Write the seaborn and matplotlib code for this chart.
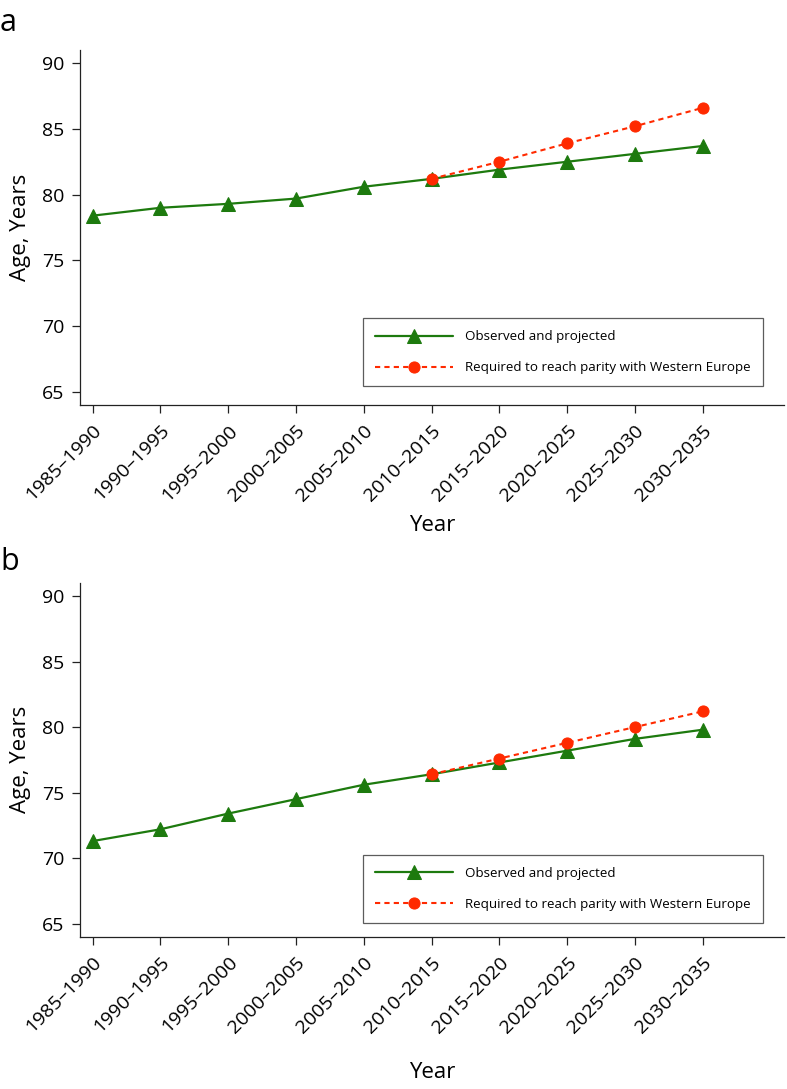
import numpy as np
import pandas as pd
import matplotlib
matplotlib.use("Agg")
import matplotlib.pyplot as plt
import matplotlib.transforms as mtransforms
import seaborn as sns

# five-year periods on the x axis
periods = ['1985–1990', '1990–1995', '1995–2000', '2000–2005', '2005–2010',
           '2010–2015', '2015–2020', '2020–2025', '2025–2030', '2030–2035']

# panel a
a_observed = [78.4, 79.0, 79.3, 79.7, 80.6, 81.2, 81.9, 82.5, 83.1, 83.7]
a_parity = [81.2, 82.5, 83.9, 85.2, 86.6]   # from 2010–2015 on

# panel b
b_observed = [71.3, 72.2, 73.4, 74.5, 75.6, 76.4, 77.3, 78.2, 79.1, 79.8]
b_parity = [76.4, 77.6, 78.8, 80.0, 81.2]

yticks = [65, 70, 75, 80, 85, 90]
lab_obs = 'Observed and projected'
lab_par = 'Required to reach parity with Western Europe'

green = '#1d7a0e'
red = '#ff2a00'

sns.set_style('ticks')
plt.rcParams['font.family'] = ['Open Sans', 'DejaVu Sans']
plt.rcParams.update({'text.color': 'black', 'axes.labelcolor': 'black',
                     'xtick.color': '#222222', 'ytick.color': '#222222',
                     'xtick.labelcolor': 'black', 'ytick.labelcolor': 'black'})

fig = plt.figure(figsize=(7.87, 10.89), dpi=100)
W, H = 787, 1089


def panel(rect, observed, parity, letter, letter_y, xlabelpad, leg_y):
    ax = fig.add_axes(rect)
    pos = np.arange(len(periods))
    obs_df = pd.DataFrame({'pos': pos, 'age': observed})
    start = len(periods) - len(parity)
    par_df = pd.DataFrame({'pos': pos[start:], 'age': parity})

    sns.lineplot(data=obs_df, x='pos', y='age', ax=ax, color=green, lw=1.6,
                 marker='^', markersize=10, markeredgecolor=green, label=lab_obs)
    sns.lineplot(data=par_df, x='pos', y='age', ax=ax, color=red, lw=1.5,
                 marker='o', markersize=8, markeredgecolor=red,
                 linestyle=(0, (2.5, 2)), label=lab_par)

    ax.set_xlim(-0.187, 10.2)
    ax.set_ylim(64, 91)
    ax.set_yticks(yticks)
    ax.set_xticks(pos)
    ax.set_xticklabels(periods, rotation=45, ha='right', va='top',
                       rotation_mode='anchor')
    shift = mtransforms.ScaledTranslation(7 / 100, 0, fig.dpi_scale_trans)
    for t in ax.get_xticklabels():
        t.set_transform(t.get_transform() + shift)
    ax.tick_params(axis='both', labelsize=14, length=6, width=0.9)
    ax.tick_params(axis='y', pad=5)
    ax.tick_params(axis='x', pad=6)
    ax.set_xlabel('Year', fontsize=16, labelpad=xlabelpad)
    ax.set_ylabel('Age, Years', fontsize=16, labelpad=8)
    for s in ['top', 'right']:
        ax.spines[s].set_visible(False)
    for s in ['left', 'bottom']:
        ax.spines[s].set_linewidth(0.9)
        ax.spines[s].set_color('#222222')

    leg = ax.legend(loc='lower right', bbox_to_anchor=(0.97, leg_y),
                    fontsize=9.6, frameon=True, fancybox=False,
                    handlelength=5.9, handletextpad=0.9, borderpad=0.9,
                    labelspacing=1.35, borderaxespad=0)
    leg.get_frame().set_edgecolor('#333333')
    leg.get_frame().set_linewidth(0.9)
    fig.text(0.0, 1 - letter_y / H, letter, fontsize=22, ha='left', va='baseline')
    return ax


panel([80 / W, 1 - 405 / H, 704 / W, 355 / H], a_observed, a_parity, 'a', 31, 7, 0.0526)
panel([80 / W, 1 - 936.7 / H, 704 / W, 353.7 / H], b_observed, b_parity, 'b', 570, 18, 0.0387)

fig.savefig('out.png', dpi=100)
